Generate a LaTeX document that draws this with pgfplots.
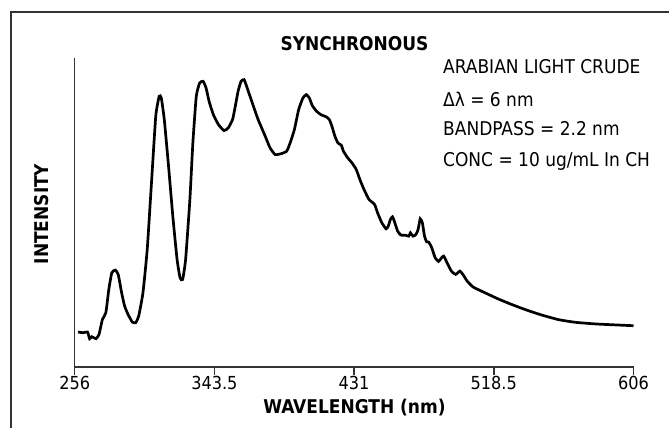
\documentclass[border=0pt]{standalone}
\usepackage{pgfplots}
\pgfplotsset{compat=1.18}
\usepackage{fontspec}
\setmainfont{DejaVu Sans Condensed}
\definecolor{axgray}{HTML}{333333}
\begin{document}
\begin{tikzpicture}[x=1bp,y=1bp]
\useasboundingbox (0,0) rectangle (669,427);
\fill[white] (0,0) rectangle (669,427);
\draw[axgray, line width=2bp] (11,-5) -- (11,415) -- (680,415);
\begin{axis}[
  at={(74.7bp,60bp)}, anchor=south west,
  scale only axis, width=558.8bp, height=309bp,
  xmin=256, xmax=606, ymin=0, ymax=928,
  axis lines=left, axis line style={-, axgray, line width=1.4bp},
  xtick={256,343.5,431,518.5,606},
  xticklabels={256,343.5,431,518.5,606},
  ytick=\empty,
  tick align=outside, major tick length=8bp,
  xtick style={axgray, line width=1.4bp},
  tick label style={font=\fontsize{18}{20}\selectfont, text=black, inner sep=1bp},
  /pgf/number format/assume math mode=true,
  clip=false,
]
\addplot[black, line width=2.7bp, smooth, tension=0.3] coordinates {
(258.14,105) (261.34,103) (264.02,105) (265.35,85) (266.69,91) (269.36,85) (271.23,98)
(273.37,143) (275.50,163) (277.37,233) (279.24,283) (281.38,291) (283.25,278) (285.39,223)
(287.26,183) (289.40,158) (292.07,135) (294.21,133) (296.08,153) (298.75,223) (301.42,353)
(304.09,553) (306.76,753) (308.90,813) (310.24,808) (312.11,743) (314.78,603) (317.45,453)
(320.12,323) (321.99,268) (323.60,263) (325.47,323) (328.14,503) (330.01,673) (332.15,813)
(334.28,853) (336.42,858) (338.29,838) (340.16,798) (342.83,758) (346.04,728) (349.51,710)
(352.18,718) (354.86,743) (356.19,773) (358.33,828) (360.20,858) (362.07,863) (363.67,843)
(366.88,798) (370.89,743) (374.90,698) (378.37,658) (381.57,638) (385.58,641) (388.79,648)
(390.93,673) (393.60,713) (396.27,773) (398.94,808) (401.08,818) (402.95,808) (404.82,785)
(407.49,768) (410.16,758) (413.64,751) (415.51,743) (417.11,723) (418.98,693) (420.85,673)
(422.99,666) (424.33,648) (427.00,628) (429.67,613) (432.34,593) (435.01,558) (437.68,528)
(440.35,503) (443.83,488) (445.70,463) (448.37,433) (451.04,415) (452.38,423) (453.72,443)
(455.05,451) (456.39,435) (458.26,408) (460.40,396) (463.07,396) (465.20,393) (466.27,403)
(467.88,393) (469.75,398) (471.08,413) (472.42,445) (473.76,433) (475.09,393) (476.43,376)
(477.76,375) (479.63,358) (481.77,328) (483.90,317) (485.77,328) (487.11,333) (489.25,313)
(491.92,288) (494.59,278) (497.26,288) (499.13,278) (501.81,258) (505.28,241) (508.49,233)
(513.83,221) (520.51,206) (528.52,190) (537.88,173) (548.56,156) (559.25,142) (569.94,134)
(583.30,129) (596.66,126) (606.0,124)
};
\end{axis}
\node[font=\fontsize{19}{21}\selectfont\bfseries] at (354.5,383) {SYNCHRONOUS};
\begin{scope}[every node/.style={font=\fontsize{19}{21}\selectfont, anchor=west, inner sep=0pt}]
\node at (443,360) {ARABIAN LIGHT CRUDE};
\node at (443,328) {Δλ = 6 nm};
\node at (443,298) {BANDPASS = 2.2 nm};
\node at (443,266) {CONC = 10 ug/mL In CH};
\end{scope}
\node[font=\fontsize{19}{21}\selectfont\bfseries, rotate=90] at (42,213) {INTENSITY};
\node[font=\fontsize{19}{21}\selectfont\bfseries] at (354.5,19) {WAVELENGTH (nm)};
\end{tikzpicture}
\end{document}
